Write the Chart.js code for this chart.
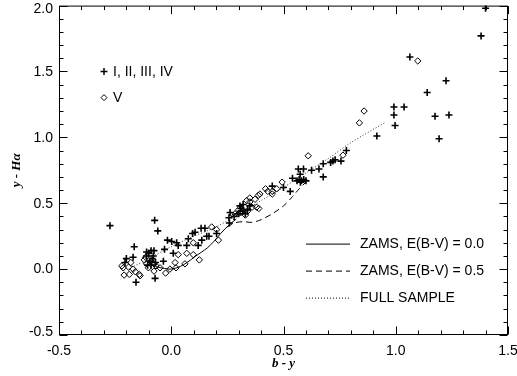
<!DOCTYPE html>
<html><head><meta charset="utf-8">
<script src="https://cdn.jsdelivr.net/npm/chart.js@4.4.1/dist/chart.umd.min.js"></script>
<style>html,body{margin:0;padding:0;background:#fff}#w{width:517px;height:376px}</style>
</head><body><div id="w"><canvas id="c" width="517" height="376"></canvas></div>
<script>
// Luminosity classes I-IV (plus markers)
const giantsX = [-0.273,-0.074,-0.060,-0.165,-0.20,-0.17,-0.206,-0.157,-0.072,-0.11,-0.09,-0.077,-0.03,-0.017,0.002,0.024,0.031,0.009,-0.035,0.069,0.076,0.095,0.106,0.133,0.150,0.136,0.12,0.158,0.168,0.202,0.262,0.257,0.259,0.306,0.32,
 -0.11,-0.10,-0.095,-0.085,-0.105,-0.09,-0.07,-0.08,
 0.31,0.33,0.34,0.35,0.30,0.32,0.28,
 0.45,0.50,0.53,0.54,
 0.56,0.57,0.58,0.59,0.60,0.575,0.566,0.589,0.574,
 0.625,0.658,0.677,0.677,0.71,0.72,0.73,0.756,0.78,
 0.916,1.40,1.38,1.063,1.224,1.14,0.992,1.037,0.992,1.175,1.237,0.997,1.193];
const giantsY = [0.33,0.37,0.29,0.17,0.08,0.09,0.05,-0.10,-0.07,0.13,0.14,0.14,0.15,0.22,0.21,0.20,0.18,0.12,0.06,0.18,0.23,0.27,0.28,0.31,0.31,0.22,0.18,0.25,0.25,0.27,0.43,0.39,0.35,0.48,0.44,
 0.10,0.12,0.06,0.08,0.03,0.03,0.05,0.10,
 0.46,0.42,0.45,0.48,0.42,0.49,0.40,
 0.63,0.62,0.59,0.69,
 0.67,0.68,0.67,0.68,0.67,0.66,0.76,0.76,0.72,
 0.75,0.76,0.70,0.80,0.81,0.82,0.83,0.82,0.90,
 1.01,1.98,1.77,1.61,1.43,1.34,1.23,1.23,1.17,1.16,1.17,1.09,0.99];
// Luminosity class V (diamond markers)
const dwarfsX = [-0.214,-0.21,-0.187,-0.18,-0.17,-0.16,-0.142,-0.139,-0.114,-0.102,-0.077,-0.068,-0.077,-0.05,-0.025,-0.006,0.021,0.017,0.061,0.069,0.098,0.098,0.125,0.031,0.18,0.202,0.21,0.284,0.299,
 -0.22,-0.19,-0.11,-0.12,-0.09,
 0.336,0.35,0.373,0.388,0.38,0.36,0.39,0.395,0.35,0.42,0.43,0.45,0.45,0.47,0.494,0.31,0.32,0.33,0.34,0.30,
 0.61,0.765,0.838,0.859,1.098];
const dwarfsY = [0.01,-0.045,-0.04,0.05,0.0,-0.02,-0.04,-0.05,0.09,0.01,0.04,0.025,-0.015,0.01,-0.03,0.0,0.01,0.05,0.04,0.12,0.11,0.20,0.07,0.11,0.32,0.30,0.22,0.42,0.42,
 0.025,0.015,0.04,0.07,0.06,
 0.52,0.54,0.53,0.56,0.47,0.47,0.46,0.57,0.51,0.61,0.59,0.57,0.59,0.61,0.66,0.43,0.45,0.41,0.44,0.45,
 0.86,0.865,1.11,1.20,1.58];
// ZAMS, E(B-V)=0.0
const zams0X = [-0.10,-0.07,-0.03,0.0,0.04,0.07,0.11,0.16,0.19,0.22,0.26,0.29];
const zams0Y = [0.05,0.02,0.005,0.0,0.02,0.05,0.10,0.16,0.21,0.27,0.34,0.38];
// ZAMS, E(B-V)=0.5
const zams5X = [0.25,0.28,0.32,0.36,0.40,0.45,0.50,0.54,0.57,0.60];
const zams5Y = [0.32,0.35,0.36,0.355,0.375,0.42,0.48,0.55,0.61,0.66];
// Full sample fit
const fitX = [-0.19,-0.1,0.0,0.1,0.2,0.3,0.4,0.5,0.6,0.7,0.8,0.95];
const fitY = [0.0,0.08,0.17,0.25,0.32,0.42,0.52,0.62,0.73,0.84,0.96,1.11];

const xMin=-0.5, xMax=1.5, yMin=-0.5, yMax=2.0;
const legendLines = ["ZAMS, E(B-V) = 0.0","ZAMS, E(B-V) = 0.5","FULL SAMPLE"];
const legendSyms = ["I, II, III, IV","V"];

const pts = (xs,ys)=>xs.map((v,i)=>({x:v,y:ys[i]}));
const isMajor = v => Math.abs(v*2-Math.round(v*2))<1e-6;
const SANS = '"Liberation Sans", Arial, sans-serif';

const frame = {
  id:'frame',
  afterDraw(chart){
    const {ctx, chartArea:a, scales:{x,y}} = chart;
    ctx.save();
    ctx.strokeStyle='#000'; ctx.lineWidth=1;
    const L=a.left+0.5, R=a.right-0.5, T=a.top+0.5, B=a.bottom-0.5;
    ctx.strokeRect(L,T,R-L,B-T);
    ctx.beginPath();
    x.ticks.forEach(t=>{const p=Math.round(x.getPixelForValue(t.value))+0.5; const len=isMajor(t.value)?8:4;
      ctx.moveTo(p,B); ctx.lineTo(p,B-len); ctx.moveTo(p,T); ctx.lineTo(p,T+len);});
    y.ticks.forEach(t=>{const p=Math.round(y.getPixelForValue(t.value))+0.5; const len=isMajor(t.value)?8:4;
      ctx.moveTo(L,p); ctx.lineTo(L+len,p); ctx.moveTo(R,p); ctx.lineTo(R-len,p);});
    ctx.stroke();
    ctx.fillStyle='#000'; ctx.font='14px '+SANS; ctx.textBaseline='middle';
    // y tick labels (kept inside the canvas at the top)
    ctx.textAlign='right';
    y.ticks.forEach(t=>{ if(!isMajor(t.value)) return;
      let p=y.getPixelForValue(t.value); p=Math.max(p, 9); p=Math.min(p, a.bottom-3);
      ctx.fillText(Number(t.value).toFixed(1), a.left-6, p+0.5);});
    // symbol legend (upper left)
    ctx.textAlign='left';
    const sx=a.left+45, sy1=a.top+66, sy2=a.top+92;
    ctx.lineWidth=1.5; ctx.beginPath();
    ctx.moveTo(sx-3.5,sy1); ctx.lineTo(sx+3.5,sy1); ctx.moveTo(sx,sy1-3.5); ctx.lineTo(sx,sy1+3.5); ctx.stroke();
    ctx.lineWidth=1; ctx.beginPath();
    ctx.moveTo(sx,sy2-3); ctx.lineTo(sx+3,sy2); ctx.lineTo(sx,sy2+3); ctx.lineTo(sx-3,sy2); ctx.closePath(); ctx.stroke();
    ctx.fillText(legendSyms[0], sx+9, sy1+1);
    ctx.fillText(legendSyms[1], sx+9, sy2+1);
    // line legend (lower right)
    const lx0=a.left+247, lx1=a.left+291, tx=a.left+301;
    const ly=[a.top+238,a.top+265,a.top+292];
    const dashes=[[],[6,4],[1,2]];
    ly.forEach((yy,i)=>{ctx.setLineDash(dashes[i]); ctx.beginPath(); ctx.moveTo(lx0,yy+0.5); ctx.lineTo(lx1,yy+0.5); ctx.stroke();
      ctx.fillText(legendLines[i], tx, yy+1);});
    ctx.setLineDash([]);
    // axis titles
    ctx.textAlign='center';
    ctx.font='bold italic 13px "Liberation Serif", "Times New Roman", serif';
    ctx.fillText('b - y', (a.left+a.right)/2, 364);
    ctx.save();
    ctx.translate(17,(a.top+a.bottom)/2); ctx.rotate(-Math.PI/2);
    ctx.fillText('y - Hα', 0, 0);
    ctx.restore();
    ctx.restore();
  }
};

new Chart(document.getElementById('c'), {
  type:'scatter',
  data:{datasets:[
    {data:pts(zams0X,zams0Y), showLine:true, pointRadius:0, borderColor:'#000', borderWidth:1, fill:false, tension:0.3},
    {data:pts(zams5X,zams5Y), showLine:true, pointRadius:0, borderColor:'#000', borderWidth:1, borderDash:[6,4], fill:false, tension:0.3},
    {data:pts(fitX,fitY), showLine:true, pointRadius:0, borderColor:'#333', borderWidth:1, borderDash:[1,2], fill:false, tension:0.3},
    {data:pts(dwarfsX,dwarfsY), pointStyle:'rectRot', pointRadius:3.2, borderColor:'#000', backgroundColor:'rgba(255,255,255,0)', borderWidth:1},
    {data:pts(giantsX,giantsY), pointStyle:'cross', pointRadius:3.5, borderColor:'#000', borderWidth:1.6}
  ]},
  options:{
    responsive:false, animation:false, devicePixelRatio:1,
    layout:{padding:{top:5,right:9,left:0,bottom:0}},
    plugins:{legend:{display:false}, tooltip:{enabled:false}},
    scales:{
      x:{type:'linear', min:xMin, max:xMax, border:{display:false},
         grid:{display:false, drawTicks:false},
         afterFit(s){s.height=41; s.paddingLeft=0; s.paddingRight=0;},
         ticks:{stepSize:0.1, autoSkip:false, maxRotation:0, padding:8, color:'#000', font:{family:SANS,size:14},
           callback:v=>isMajor(v)?Number(v).toFixed(1):''}},
      y:{type:'linear', min:yMin, max:yMax, border:{display:false},
         grid:{display:false, drawTicks:false},
         afterFit(s){s.width=59; s.paddingTop=0; s.paddingBottom=0;},
         ticks:{display:false, stepSize:0.1, autoSkip:false}}
    }
  },
  plugins:[frame]
});
</script></body></html>
